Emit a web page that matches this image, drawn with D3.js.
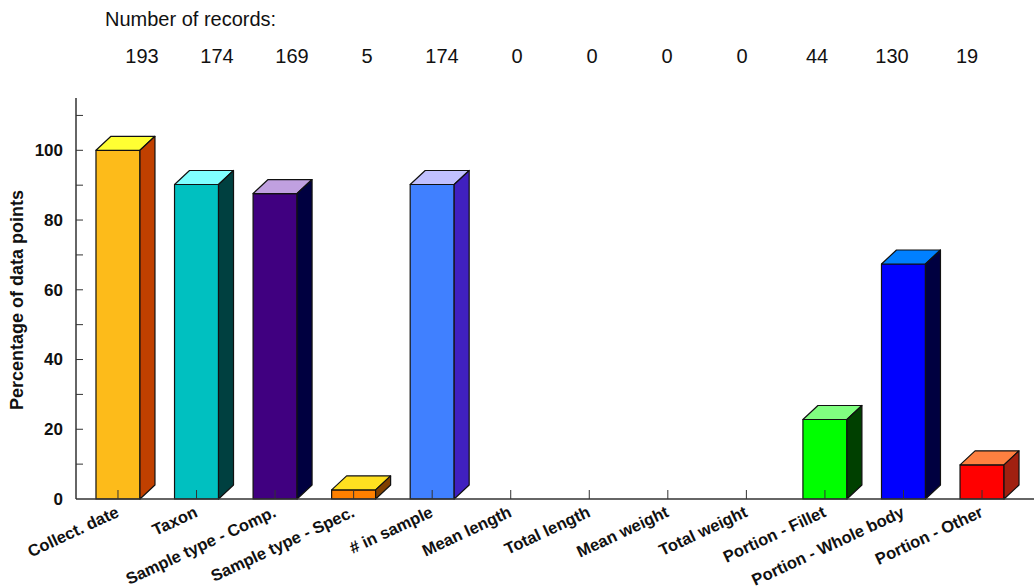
<!DOCTYPE html>
<html>
<head>
<meta charset="utf-8">
<script src="https://cdn.jsdelivr.net/npm/d3@7"></script>
<style>
  html, body { margin: 0; padding: 0; background: #fff; }
  svg { display: block; font-family: "Liberation Sans", Arial, sans-serif; }
</style>
</head>
<body>
<svg id="chart" width="1034" height="588"></svg>
<script>
// ---- data ----
const categories = ["Collect. date", "Taxon", "Sample type - Comp.", "Sample type - Spec.",
  "# in sample", "Mean length", "Total length", "Mean weight", "Total weight",
  "Portion - Fillet", "Portion - Whole body", "Portion - Other"];
const recordCounts = [193, 174, 169, 5, 174, 0, 0, 0, 0, 44, 130, 19];
const percentages = [100, 90.2, 87.6, 2.6, 90.2, 0, 0, 0, 0, 22.8, 67.4, 9.8];
const yTicks = [0, 20, 40, 60, 80, 100];
const yMinorTicks = [10, 20, 30, 40, 50, 60, 70, 80, 90, 100, 110];

// ---- styles ----
const frontColors = ["#FDBB1A", "#00C0C0", "#400080", "#FF8000", "#4080FF", "#999", "#999", "#999", "#999", "#00FF00", "#0000FF", "#FF0000"];
const topColors   = ["#FFFF33", "#80FFFF", "#C0A0E0", "#FFE020", "#C0C0FF", "#ccc", "#ccc", "#ccc", "#ccc", "#80FF80", "#0080FF", "#FF8040"];
const sideColors  = ["#C04000", "#004040", "#000040", "#804000", "#4020C0", "#666", "#666", "#666", "#666", "#004000", "#000040", "#A02010"];

const svg = d3.select("#chart");
const x = d3.scaleBand().domain(categories).range([78.7, 1021.3]).paddingInner(0.44).paddingOuter(0.22);
const y = d3.scaleLinear().domain([0, 115]).range([499, 98]);
const countX = d3.scalePoint().domain(categories).range([142, 967]);
const dx = 15, dy = 14;
const axisX = 76;

// header
svg.append("text").attr("x", 105).attr("y", 26).attr("font-size", 20).attr("fill", "#111")
  .text("Number of records:");
svg.append("g").selectAll("text").data(categories).join("text")
  .attr("x", d => countX(d)).attr("y", 63).attr("text-anchor", "middle")
  .attr("font-size", 20).attr("fill", "#111")
  .text((d, i) => recordCounts[i]);

// bars
const bars = svg.append("g");
categories.forEach((c, i) => {
  const v = percentages[i];
  if (v <= 0) return;
  const x0 = x(c), x1 = x0 + x.bandwidth();
  const yt = y(v), yb = y(0);
  const g = bars.append("g").attr("stroke", "#111").attr("stroke-width", 1.2).attr("stroke-linejoin", "round");
  g.append("rect").attr("x", x0).attr("y", yt).attr("width", x1 - x0).attr("height", yb - yt)
    .attr("fill", frontColors[i]);
  g.append("path").attr("d", `M${x0},${yt}L${x0 + dx},${yt - dy}L${x1 + dx},${yt - dy}L${x1},${yt}Z`)
    .attr("fill", topColors[i]);
  g.append("path").attr("d", `M${x1},${yt}L${x1 + dx},${yt - dy}L${x1 + dx},${yb - dy}L${x1},${yb}Z`)
    .attr("fill", sideColors[i]);
});

// category tick marks (inward)
svg.append("g").selectAll("line").data(categories).join("line")
  .attr("x1", d => x(d) + x.bandwidth() / 2).attr("x2", d => x(d) + x.bandwidth() / 2)
  .attr("y1", y(0)).attr("y2", y(0) - 9)
  .attr("stroke", "#333").attr("stroke-width", 1);

// x axis line
svg.append("line").attr("x1", axisX).attr("x2", 1034).attr("y1", y(0)).attr("y2", y(0))
  .attr("stroke", "#333").attr("stroke-width", 1.5);

// y axis
svg.append("line").attr("x1", axisX).attr("x2", axisX).attr("y1", y(115)).attr("y2", y(0))
  .attr("stroke", "#333").attr("stroke-width", 1.5);
svg.append("g").selectAll("line").data(yMinorTicks).join("line")
  .attr("x1", axisX).attr("x2", axisX + 7).attr("y1", d => y(d)).attr("y2", d => y(d))
  .attr("stroke", "#333").attr("stroke-width", 1);
svg.append("g").selectAll("text").data(yTicks).join("text")
  .attr("x", 63).attr("y", d => y(d)).attr("dy", "0.35em").attr("text-anchor", "end")
  .attr("font-size", 17).attr("font-weight", "bold").attr("fill", "#111")
  .text(d => d);

// y title
svg.append("text").attr("transform", "translate(23,300) rotate(-90)").attr("text-anchor", "middle")
  .attr("font-size", 18).attr("font-weight", "bold").attr("fill", "#111")
  .text("Percentage of data points");

// x labels
svg.append("g").selectAll("text").data(categories).join("text")
  .attr("transform", d => `translate(${x(d) + x.bandwidth() / 2 + 2},516) rotate(-25)`)
  .attr("text-anchor", "end").attr("font-size", 16.5).attr("font-weight", "bold").attr("fill", "#111")
  .text(d => d);
</script>
</body>
</html>
